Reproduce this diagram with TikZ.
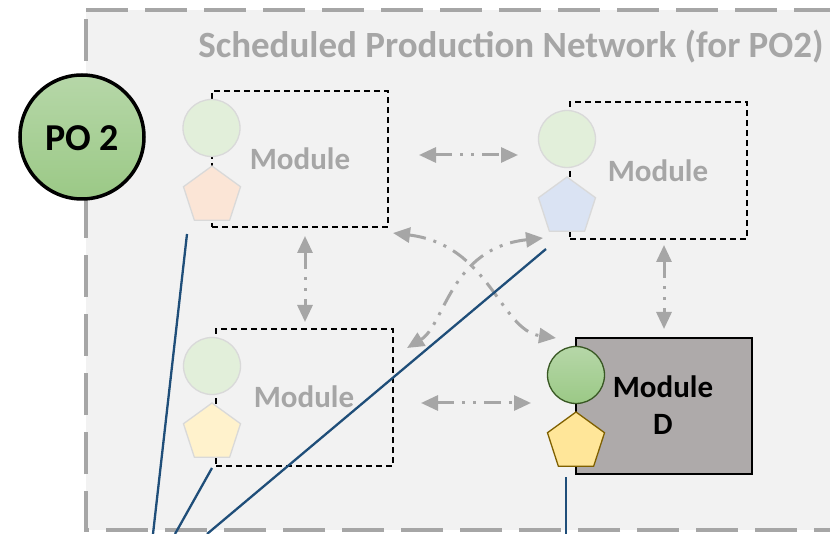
\documentclass[tikz,border=0pt]{standalone}
\usepackage{fontspec}
\setmainfont{Carlito}
\usetikzlibrary{arrows.meta,shapes.geometric}
\definecolor{gbg}{HTML}{F2F2F2}
\definecolor{gline}{HTML}{A6A6A6}
\definecolor{cfill}{HTML}{E2EFDA}
\definecolor{cedge}{HTML}{D9D9D9}
\definecolor{porange}{HTML}{FBE5D6}
\definecolor{pblue}{HTML}{DAE3F3}
\definecolor{pyellow}{HTML}{FFF2CC}
\definecolor{dgray}{HTML}{AEAAAA}
\definecolor{gtop}{HTML}{B6D7A8}
\definecolor{gbot}{HTML}{9BC986}
\definecolor{dgreen}{HTML}{385723}
\definecolor{gold}{HTML}{FFE699}
\definecolor{goldedge}{HTML}{7F6000}
\definecolor{navy}{HTML}{1F4E79}
\begin{document}
\begin{tikzpicture}[x=1pt,y=-1pt,
  modrect/.style={draw=black, line width=1.3pt, dash pattern=on 6pt off 4pt, inner sep=0pt},
  lcirc/.style={circle, draw=cedge, line width=1.3pt, fill=cfill, minimum size=57pt, inner sep=0pt},
  lpent/.style={regular polygon, regular polygon sides=5, draw=cedge, line width=1.3pt, minimum size=60pt, inner sep=0pt},
  modtext/.style={text=gline, font=\bfseries\fontsize{31}{36}\selectfont, anchor=base},
  link/.style={gline, line width=3pt, dash pattern=on 17pt off 8pt on 3pt off 8pt on 3pt off 8pt, {Triangle[length=17pt,width=15pt]}-{Triangle[length=17pt,width=15pt]}},
  wire/.style={navy, line width=2.3pt}
]
\useasboundingbox (0,0) rectangle (830,534);
\clip (0,0) rectangle (830,534);
\fill[white] (0,0) rectangle (830,534);
% outer network frame
\draw[gline, line width=4pt, fill=gbg, dash pattern=on 42pt off 17pt] (86,10) -- (860,10) -- (860,530) -- (86,530) -- cycle;
\node[text=gline, font=\bfseries\fontsize{37}{43}\selectfont, anchor=base] (title) at (511,58) {Scheduled Production Network (for PO2)};
% PO 2
\node[circle, draw=black, line width=3.5pt, top color=gtop, bottom color=gbot, minimum size=124pt, inner sep=0pt] (po) at (82,137) {};
\node[font=\bfseries\fontsize{38}{44}\selectfont, anchor=base] (potext) at (82,151) {PO 2};
% module 1
\node[modrect, minimum width=176pt, minimum height=136pt] (r1) at (300,159) {};
\node[lcirc] (c1) at (211.5,128) {};
\node[lpent, fill=porange] (p1) at (212,196) {};
\node[modtext] (t1) at (300,170) {Module};
% module 2
\node[modrect, minimum width=177pt, minimum height=137pt] (r2) at (658.5,170.5) {};
\node[lcirc] (c2) at (567,139) {};
\node[lpent, fill=pblue] (p2) at (567,207) {};
\node[modtext] (t2) at (658,182) {Module};
% module 3
\node[modrect, minimum width=177pt, minimum height=137pt] (r3) at (304.5,397.5) {};
\node[lcirc] (c3) at (212,366) {};
\node[lpent, fill=pyellow] (p3) at (212,433) {};
\node[modtext] (t3) at (304,408) {Module};
% module D
\node[draw=black, line width=1.5pt, fill=dgray, minimum width=176pt, minimum height=136pt, inner sep=0pt] (rd) at (664,406) {};
\node[circle, draw=dgreen, line width=1.3pt, top color=gtop, bottom color=gbot, minimum size=57pt, inner sep=0pt] (cd) at (576,375) {};
\node[regular polygon, regular polygon sides=5, draw=goldedge, line width=1.3pt, fill=gold, minimum size=60pt, inner sep=0pt] (pd) at (576,442) {};
\node[font=\bfseries\fontsize{31}{36}\selectfont, anchor=base] (td1) at (663,398) {Module};
\node[font=\bfseries\fontsize{31}{36}\selectfont, anchor=base] (td2) at (663,435) {D};
% link end points
\coordinate (a1s) at (419,155); \coordinate (a1e) at (518,155);
\coordinate (a2s) at (305,236); \coordinate (a2e) at (305,322);
\coordinate (a3s) at (664,245); \coordinate (a3e) at (664,329);
\coordinate (a4s) at (421,403); \coordinate (a4e) at (531,403);
\coordinate (a5s) at (393,233); \coordinate (a5e) at (556,338);
\coordinate (a6s) at (543,238); \coordinate (a6e) at (407,348);
\draw[link] (a1s) -- (a1e);
\draw[link] (a2s) -- (a2e);
\draw[link] (a3s) -- (a3e);
\draw[link] (a4s) -- (a4e);
\draw[link] (a5s) .. controls (490,245) and (500,330) .. (a5e);
\draw[link] (a6s) .. controls (450,248) and (445,325) .. (a6e);
% wires
\coordinate (w1s) at (187,234); \coordinate (w1e) at (153,534);
\coordinate (w2s) at (212,468); \coordinate (w2e) at (175,534);
\coordinate (w3s) at (546,249); \coordinate (w3e) at (207,534);
\coordinate (w4s) at (566,477); \coordinate (w4e) at (566,534);
\draw[wire] (w1s) -- (w1e);
\draw[wire] (w2s) -- (w2e);
\draw[wire] (w3s) -- (w3e);
\draw[wire] (w4s) -- (w4e);
\end{tikzpicture}
\end{document}
